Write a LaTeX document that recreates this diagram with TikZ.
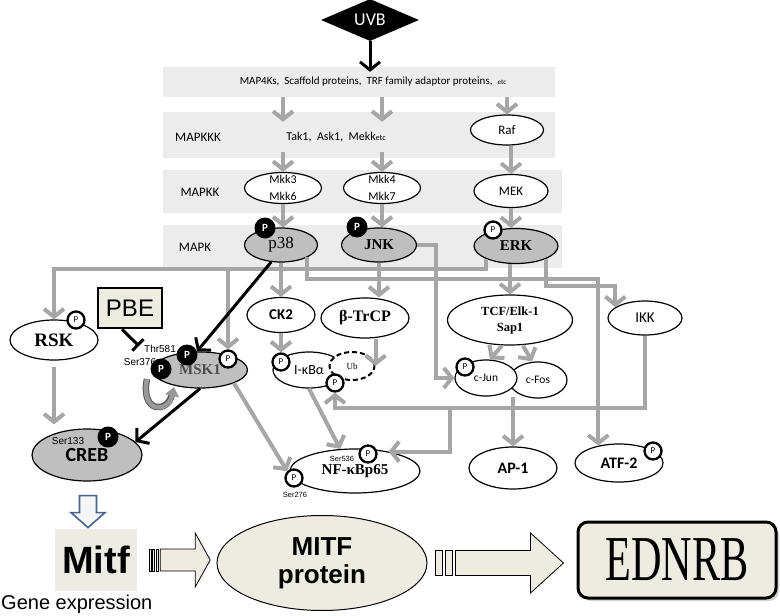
\documentclass[tikz,border=0pt]{standalone}
\usepackage{fontspec}
\setmainfont{Liberation Serif}
\setsansfont{Carlito}
\renewcommand{\familydefault}{\sfdefault}
\newfontfamily\arialfont{Liberation Sans}
\usetikzlibrary{
  arrows.meta,
  calc,
  positioning,
  shapes.geometric,
  shadows
}
\definecolor{BandGray}{RGB}{236,236,236}
\definecolor{KinGray}{RGB}{191,191,191}
\definecolor{LinkGray}{RGB}{166,166,166}
\definecolor{Beige}{RGB}{238,236,225}
\definecolor{MitfBox}{RGB}{236,235,228}
\definecolor{HollowEdge}{RGB}{70,100,140}
\newcommand{\fsz}[1]{\fontsize{#1}{#1}\selectfont}

\begin{document}
\begin{tikzpicture}[
  x=1pt, y=-1pt,
  font=\sffamily,
  band/.style={fill=BandGray, inner sep=0pt},
  prot/.style={ellipse, draw, line width=1.2pt, fill=white, inner sep=0pt},
  kin/.style={prot, fill=KinGray},
  pw/.style={circle, draw, line width=2.3pt, fill=white, inner sep=0pt,
             minimum size=17pt, font=\sffamily\fsz{9}},
  pb/.style={circle, fill=black, text=white, inner sep=0pt,
             minimum size=21pt, font=\sffamily\bfseries\fsz{11}},
  lvl/.style={font=\sffamily\fsz{13}},
  tag/.style={font=\arialfont\fsz{#1}, inner sep=0pt},
  tag/.default=10,
  arr/.style={-{Straight Barb[length=8pt,width=20pt]}, line width=4pt, draw=LinkGray},
  karr/.style={-{Straight Barb[length=8pt,width=20pt]}, line width=3pt},
  blockarr/.style={fill=Beige, line width=0.8pt},
]
  \useasboundingbox (0,0) rectangle (780,616);

  % kinase levels
  \node[band, minimum width=392pt, minimum height=30pt] (b1) at (359,82) {};
  \node[band, minimum width=392pt, minimum height=46pt] (b2) at (359,135) {};
  \node[band, minimum width=399pt, minimum height=43pt] (b3) at (362.5,191.5) {};
  \node[band, minimum width=399pt, minimum height=43pt] (b4) at (362.5,246.5) {};

  \node[diamond, fill=black, text=white, aspect=2.4, inner sep=0pt,
        minimum width=98pt, minimum height=42pt, font=\sffamily\fsz{18}] (uvb) at (370,20) {UVB};

  \node[font=\sffamily\fsz{11}] (adapt) at (373,82)
    {MAP4Ks,\ \ Scaffold proteins,\ \ TRF family adaptor proteins,\ \ {\fsz{7}etc}};
  \node[lvl] (lkkk) at (198,137) {MAPKKK};
  \node[font=\sffamily\fsz{12}] (tak) at (336,137) {Tak1,\ \ Ask1,\ \ Mekk{\fsz{8}etc}};
  \node[prot, minimum width=73pt, minimum height=30pt, font=\sffamily\fsz{13}] (raf) at (507,130) {Raf};

  \node[lvl] (lkk) at (200,192) {MAPKK};
  \node[prot, minimum width=77pt, minimum height=31pt,
        label={[font=\sffamily\fontsize{12}{17}\selectfont, align=center]center:Mkk3\\Mkk6}] (mkk36) at (283,188) {};
  \node[prot, minimum width=77pt, minimum height=31pt,
        label={[font=\sffamily\fontsize{12}{17}\selectfont, align=center]center:Mkk4\\Mkk7}] (mkk47) at (382,188) {};
  \node[prot, minimum width=74pt, minimum height=33pt, font=\sffamily\fsz{13}] (mek) at (511,191) {MEK};

  \node[lvl] (lk) at (195,247) {MAPK};
  \node[kin, minimum width=73pt, minimum height=34pt, font=\rmfamily\fsz{17}] (p38) at (281,245) {p38};
  \node[kin, minimum width=75pt, minimum height=34pt, font=\rmfamily\bfseries\fsz{15}] (jnk) at (379,245) {JNK};
  \node[kin, minimum width=84pt, minimum height=35pt, font=\rmfamily\bfseries\fsz{15}] (erk) at (516,246) {ERK};
  \node[pb] (p38p) at (265,228) {P};
  \node[pb] (jnkp) at (357,227) {P};
  \node[pw] (erkp) at (493,230) {P};

  % substrates
  \node[prot, minimum width=88pt, minimum height=40pt, font=\rmfamily\bfseries\fsz{19}] (rsk) at (54,340) {RSK};
  \node[pw] (rskp) at (76,320) {P};
  \node[draw, line width=2.5pt, fill=Beige, minimum width=64pt, minimum height=40pt,
        inner sep=0pt, font=\arialfont\fsz{24}] (pbe) at (130,308) {PBE};
  \node[prot, minimum width=68pt, minimum height=35pt, font=\sffamily\bfseries\fsz{15}] (ck2) at (281,315) {CK2};
  \node[prot, minimum width=88pt, minimum height=40pt, font=\rmfamily\bfseries\fsz{16}] (btrcp) at (365,318) {β-TrCP};
  \node[prot, minimum width=125pt, minimum height=50pt, align=center,
        font=\rmfamily\bfseries\fontsize{12.5}{16}\selectfont] (tcf) at (510,320) {TCF/Elk-1\\Sap1};
  \node[prot, minimum width=74pt, minimum height=34pt, font=\sffamily\fsz{15}] (ikk) at (645,318) {IKK};

  \node[tag] (thr) at (160,349) {Thr581};
  \node[tag] (ser376) at (140,362) {Ser376};
  \node[kin, minimum width=95pt, minimum height=36pt, text=black!70,
        font=\rmfamily\bfseries\fsz{15}] (msk1) at (200,370) {MSK1};
  \node[pb] (mskt) at (187,355) {P};
  \node[pb] (msks) at (161,369) {P};
  \node[pw] (mskp) at (228,359) {P};

  \node[prot, minimum width=72pt, minimum height=36pt, font=\sffamily\fsz{14}] (ikba) at (309,370) {I-κBα};
  \node[prot, line width=2pt, dash pattern=on 5pt off 3pt, minimum width=45pt, minimum height=28pt,
        font=\rmfamily\fsz{9}] (ub) at (352,366) {Ub};
  \node[pw] (ikp1) at (281,362) {P};
  \node[pw] (ikp2) at (335,383) {P};

  \node[prot, minimum width=58pt, minimum height=36pt, font=\sffamily\fsz{11.5}] (cfos) at (538,380) {c-Fos};
  \node[prot, minimum width=62pt, minimum height=36pt, font=\sffamily\fsz{11.5}] (cjun) at (486,378) {c-Jun};
  \node[pw] (cjunp) at (465,367) {P};

  \node[prot, minimum width=130pt, minimum height=44pt, font=\rmfamily\bfseries\fsz{15}] (nfkb) at (355,471) {NF-κBp65};
  \node[tag=7.5] (s536) at (342,459) {Ser536};
  \node[pw] (nfp1) at (368,454) {P};
  \node[pw] (nfp2) at (294,478) {P};
  \node[tag=7.5] (s276) at (295,495) {Ser276};

  \node[prot, minimum width=88pt, minimum height=42pt, font=\sffamily\bfseries\fsz{16}] (ap1) at (513,468) {AP-1};
  \node[prot, minimum width=88pt, minimum height=38pt, font=\sffamily\bfseries\fsz{16}] (atf2) at (619,463) {ATF-2};
  \node[pw] (atfp) at (653,451) {P};

  \node[kin, minimum width=110pt, minimum height=52pt, font=\sffamily\bfseries\fsz{20}] (creb) at (87,455) {\raisebox{-6pt}{CREB}};
  \node[tag] (s133) at (68,441) {Ser133};
  \node[pb] (crebp) at (108,437) {P};

  % bus lines
  \coordinate (busA) at (0,269);
  \coordinate (busB) at (0,279);
  \coordinate (busC) at (436,0);
  \coordinate (busD) at (0,286);
  \coordinate (busE) at (0,408);
  \coordinate (busF) at (450,0);

  \draw[karr] (uvb.south) -- ($(uvb.south |- b1.north)+(0,5)$);
  \foreach \n in {mkk36, mkk47} {
    \draw[arr] (\n.north |- b1.south) -- ($(\n.north |- b2.north)+(0,10)$);
    \draw[arr] ($(\n.north |- b2.south)+(0,-6)$) -- (\n.north);
  }
  \draw[arr] (raf.north |- b1.south) -- (raf.north);
  \draw[arr] (mek.north |- raf.south) -- (mek.north);
  \draw[arr] (mkk36.south) -- (mkk36.south |- p38.north);
  \draw[arr] (mkk47.south) -- (mkk47.south |- jnk.north);
  \draw[arr] (mek.south) -- (mek.south |- erk.north);

  \draw[arr] (erk.south west) |- (busA -| rsk.north) -- (rsk.north);
  \draw[arr] (busA -| mskp.north) -- (mskp.north);
  \draw[arr] (p38.south east) |- (busB -| atf2.140) -- (atf2.140);
  \draw[arr] (jnk.east) -| (busC |- cjun.west) -- (cjun.west);
  \draw[arr] (erk.south east) |- (busD -| ikk.160) -- (ikk.160);
  \draw[arr] (ck2.north |- p38.south) -- (ck2.north);
  \draw[arr] (jnk.south) -- (jnk.south |- btrcp.north);
  \draw[arr] (tcf.north |- erk.south) -- (tcf.north);

  \draw[arr] (ck2.south) -- (ikp1.north);
  \draw[arr] (btrcp.south -| ub.east) -- (ub.east);
  \draw[arr] ([xshift=-8pt]tcf.south) -- ([xshift=4pt]cjun.north);
  \draw[arr] ([xshift=13pt]tcf.south) -- ([xshift=-6pt]cfos.north);
  \draw[arr] (ap1.north |- cjun.south) -- (ap1.north);
  \draw[arr] (ikk.south) |- (busE -| ikp2.south) -- (ikp2.south);
  \draw[arr] (busE -| busF) |- (nfkb.30);
  \draw[arr] (ikba.south) -- (nfkb.124);
  \draw[arr] (msk1.south east) -- (nfp2.north west);
  \draw[arr, shorten <=6pt] (rsk.south) -- ($(rsk.south |- creb.north)+(0,-4)$);

  % autophosphorylation loop
  \draw[line width=6.5pt, black!65] ($(msk1)+(-53,9)$) .. controls ($(msk1)+(-60,43)$) and ($(msk1)+(-32,44)$) .. ($(msk1)+(-28,24)$);
  \draw[line width=4.5pt, black!40, -{Triangle[length=9pt,width=14pt]}]
    ($(msk1)+(-53,9)$) .. controls ($(msk1)+(-60,43)$) and ($(msk1)+(-32,44)$) .. ($(msk1)+(-26,17)$);

  \draw[line width=3pt, -{Bar[width=16pt]}] ([xshift=-8pt]pbe.south) -- ($(thr.west)+(-5,-3)$);
  \draw[karr] (p38.240) -- (mskt.20);
  \draw[karr] (msk1.south) -- (creb.15);

  % expression
  \node[fill=MitfBox, minimum width=82pt, minimum height=62pt, inner sep=0pt,
        font=\arialfont\bfseries\fsz{38}] (mitf) at (96,560) {Mitf};
  \node[anchor=base west, inner sep=0pt, font=\arialfont\fsz{20}] (gexp) at (1,609) {Gene expression};
  \node[ellipse, draw, line width=1pt, fill=Beige, minimum width=210pt, minimum height=95pt,
        inner sep=0pt, align=center, font=\arialfont\bfseries\fontsize{26}{28}\selectfont] (mitfp) at (322,563) {MITF\\protein};
  \node[draw, line width=3pt, rounded corners=10pt, fill=Beige, minimum width=198pt, minimum height=76pt,
        inner sep=0pt, drop shadow={shadow xshift=3pt, shadow yshift=-3pt, fill=black!35},
        font=\rmfamily\fsz{64}] (ednrb) at (677,560) {\scalebox{0.66}[1]{EDNRB}};

  \coordinate (dn) at ($(creb.south)+(1,0)$);
  \draw[draw=HollowEdge, fill=black!4, line width=1.6pt, line join=miter]
    ($(dn)+(-8.5,14)$) -- ($(dn)+(8.5,14)$) -- ($(dn)+(8.5,31)$) -- ($(dn)+(17,31)$)
    -- ($(dn)+(0,46)$) -- ($(dn)+(-17,31)$) -- ($(dn)+(-8.5,31)$) -- cycle;

  \coordinate (a1) at ($(mitf.east)+(12,0)$);
  \foreach \dx in {0,3.5,7}
    \draw[blockarr, line width=0.6pt] ($(a1)+(\dx,-11)$) rectangle ++(2,22);
  \draw[blockarr] ($(a1)+(11,-11)$) -- ($(a1)+(46,-11)$) -- ($(a1)+(46,-27)$) -- ($(a1)+(61,0)$)
    -- ($(a1)+(46,27)$) -- ($(a1)+(46,11)$) -- ($(a1)+(11,11)$) -- cycle;

  \coordinate (a2) at ($(mitfp.east)+(8,0)$);
  \foreach \dx in {0,10}
    \draw[blockarr, line width=0.6pt] ($(a2)+(\dx,-12.5)$) rectangle ++(7,25);
  \draw[blockarr] ($(a2)+(20,-12.5)$) -- ($(a2)+(95,-12.5)$) -- ($(a2)+(95,-30)$) -- ($(a2)+(128,0)$)
    -- ($(a2)+(95,30)$) -- ($(a2)+(95,12.5)$) -- ($(a2)+(20,12.5)$) -- cycle;
\end{tikzpicture}
\end{document}
